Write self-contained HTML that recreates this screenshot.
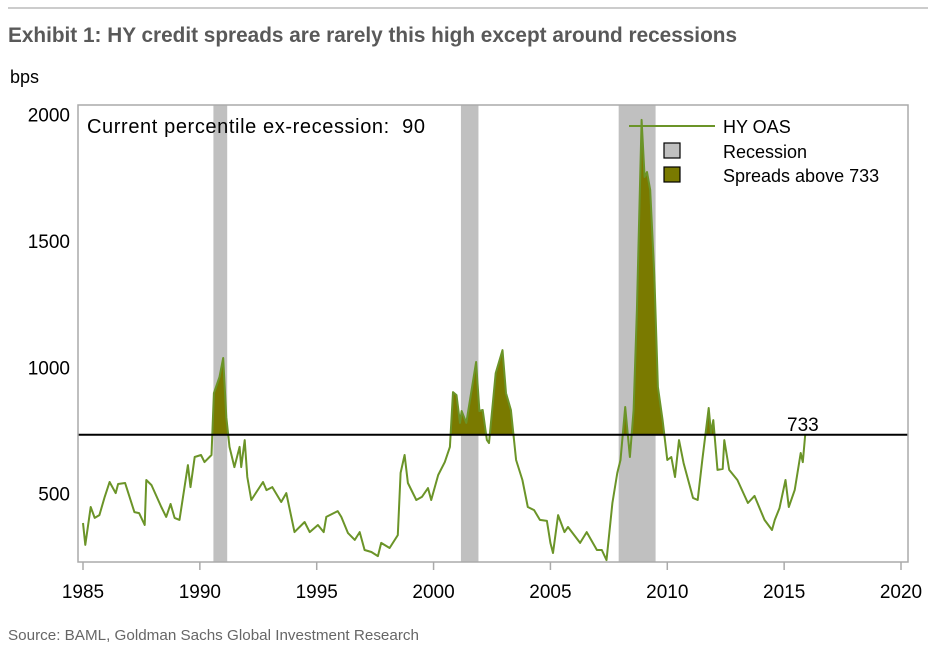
<!DOCTYPE html>
<html><head><meta charset="utf-8"><style>
body{margin:0;background:#fff;width:936px;height:657px;overflow:hidden}
svg text{font-family:"Liberation Sans",sans-serif}
</style></head><body>
<svg id="c" width="936" height="657">
<line x1="8" y1="8" x2="928" y2="8" stroke="#999" stroke-width="1"/>
<text x="8" y="42" font-size="21" font-weight="bold" fill="#595959" textLength="729" lengthAdjust="spacingAndGlyphs" style="font-family:'Liberation Sans Narrow','Liberation Sans',sans-serif">Exhibit 1: HY credit spreads are rarely this high except around recessions</text>
<text x="10" y="83" font-size="18" fill="#000">bps</text>
<text x="8" y="640" font-size="15" fill="#666" textLength="411" lengthAdjust="spacingAndGlyphs" style="font-family:'Liberation Sans Narrow','Liberation Sans',sans-serif">Source: BAML, Goldman Sachs Global Investment Research</text>
<g id="plot"></g>
</svg>
<script>
const recessionStarts=[1990.58,2001.17,2007.92];
const recessionEnds=[1991.17,2001.92,2009.5];
const threshold=733;
const percentile=90;
const yTicks=[500,1000,1500,2000];
const xTicks=[1985,1990,1995,2000,2005,2010,2015,2020];
const years=[1985.0,1985.1,1985.33,1985.5,1985.7,1985.93,1986.14,1986.4,1986.5,1986.8,1987.2,1987.4,1987.64,1987.71,1987.93,1988.35,1988.56,1988.75,1988.92,1989.13,1989.49,1989.6,1989.78,1990.05,1990.2,1990.5,1990.6,1990.84,1991.0,1991.13,1991.27,1991.48,1991.7,1991.77,1991.92,1992.03,1992.2,1992.7,1992.85,1993.1,1993.48,1993.7,1994.05,1994.48,1994.7,1995.05,1995.3,1995.41,1995.9,1996.05,1996.34,1996.63,1996.84,1997.05,1997.34,1997.62,1997.76,1998.12,1998.47,1998.59,1998.76,1998.9,1999.26,1999.5,1999.76,1999.9,2000.2,2000.48,2000.7,2000.83,2000.98,2001.13,2001.2,2001.4,2001.82,2001.96,2002.1,2002.28,2002.37,2002.66,2002.95,2003.1,2003.31,2003.53,2003.8,2004.03,2004.3,2004.55,2004.85,2005.0,2005.11,2005.33,2005.6,2005.75,2006.27,2006.55,2006.99,2007.2,2007.4,2007.65,2007.86,2008.0,2008.2,2008.4,2008.56,2008.7,2008.9,2009.03,2009.13,2009.27,2009.45,2009.6,2009.8,2010.0,2010.17,2010.33,2010.5,2010.7,2011.1,2011.3,2011.5,2011.77,2011.87,2011.97,2012.15,2012.37,2012.44,2012.65,2013.0,2013.45,2013.73,2014.16,2014.48,2014.6,2014.8,2015.06,2015.2,2015.45,2015.71,2015.8,2015.9];
const spreads=[384,297,447,404,415,487,546,502,538,542,427,423,376,554,534,447,408,459,404,396,613,526,645,653,625,653,898,962,1037,803,685,605,685,605,712,566,475,546,514,526,467,502,348,388,348,376,348,408,431,408,344,317,348,277,269,253,305,285,336,582,653,542,475,487,522,475,574,625,685,902,890,780,827,780,1021,827,831,712,700,977,1068,898,831,633,554,447,435,396,392,305,265,415,348,368,305,348,277,277,237,463,582,633,843,645,831,1227,1979,1753,1773,1702,1357,922,791,633,645,566,712,621,483,475,633,839,740,791,594,598,712,594,554,463,491,396,356,396,443,554,447,514,661,625,733];

const L=78,R=908,T=105,B=562;
const xs=yr=>83+(yr-1985)*(901-83)/35;
const ys=v=>620-v*0.2527;
const NS="http://www.w3.org/2000/svg";
const g=document.getElementById('plot');
function mk(tag,attrs){const e=document.createElementNS(NS,tag);for(const k in attrs)e.setAttribute(k,attrs[k]);g.appendChild(e);return e;}

recessionStarts.forEach((s,i)=>{
  const r=mk('rect',{x:xs(s),y:T,width:xs(recessionEnds[i])-xs(s),height:B-T,fill:'#c0c0c0'});
  
  
});
const defs=mk('defs',{});
const cp=document.createElementNS(NS,'clipPath');cp.setAttribute('id','above');defs.appendChild(cp);
const cr=document.createElementNS(NS,'rect');cr.setAttribute('x',L);cr.setAttribute('y',T);cr.setAttribute('width',R-L);cr.setAttribute('height',ys(threshold)-T);cp.appendChild(cr);
let d='M'+xs(years[0])+','+ys(threshold);
years.forEach((y,i)=>{d+=' L'+xs(y).toFixed(1)+','+ys(spreads[i]).toFixed(1);});
d+=' L'+xs(years[years.length-1])+','+ys(threshold)+' Z';
const fa=mk('path',{d:d,fill:'#7a7a00','clip-path':'url(#above)'});


const ln=mk('polyline',{points:years.map((y,i)=>xs(y).toFixed(1)+','+ys(spreads[i]).toFixed(1)).join(' '),fill:'none',stroke:'#6b9428','stroke-width':2,'stroke-linejoin':'round'});


const th=mk('line',{x1:L,x2:R,y1:ys(threshold),y2:ys(threshold),stroke:'#000','stroke-width':2});


const tl=mk('text',{x:787,y:ys(threshold)-4,'font-size':19});tl.textContent=threshold;


const fr=mk('rect',{x:L,y:T,width:R-L,height:B-T,fill:'none',stroke:'#aaa','stroke-width':1.5});


yTicks.forEach(v=>{
  const t=mk('text',{x:70,y:ys(v)+7,'font-size':19,'text-anchor':'end'});t.textContent=v;
  
  
});
xTicks.forEach(v=>{
  const tk=mk('line',{x1:xs(v),x2:xs(v),y1:B,y2:B+8,stroke:'#aaa','stroke-width':1.5});
  
  
  const t=mk('text',{x:xs(v),y:598,'font-size':19,'text-anchor':'middle'});t.textContent=v;
  
  
});
const pc=mk('text',{x:87,y:133,'font-size':20,textLength:338,lengthAdjust:'spacing'});pc.textContent='Current percentile ex-recession:\u00a0\u00a0'+percentile;


const l1=mk('line',{x1:629,x2:715,y1:126,y2:126,stroke:'#6b9428','stroke-width':2});


const l2=mk('rect',{x:664,y:143,width:16,height:15,fill:'#c0c0c0',stroke:'#000','stroke-width':1.2});


const l3=mk('rect',{x:664,y:167,width:16,height:15,fill:'#7a7a00',stroke:'#000','stroke-width':1.2});


[['HY OAS',133,'legend-hy-oas'],['Recession',158,'legend-recession'],['Spreads above '+threshold,182,'legend-above']].forEach(a=>{
  const t=mk('text',{x:723,y:a[1],'font-size':18});t.textContent=a[0];
  
  
});
</script>
</body></html>
